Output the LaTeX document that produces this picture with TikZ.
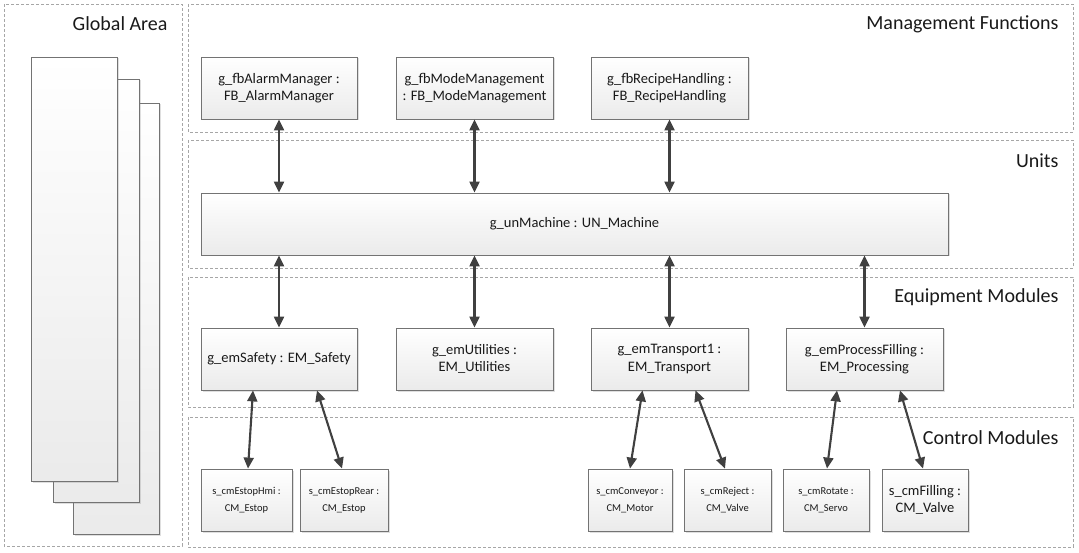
\documentclass[tikz,border=0pt]{standalone}
\usepackage{fontspec}
\setmainfont{Carlito}
\usetikzlibrary{arrows.meta}
\usetikzlibrary{shadows}

\tikzset{
    area/.style={draw=black!35, dash pattern=on 3pt off 2pt, line width=0.8pt},
    arealabel/.style={anchor=east, font=\fontsize{20pt}{24pt}\selectfont, text=black!90},
    block/.style={draw=black!55, line width=0.8pt, top color=white, bottom color=black!8,
        drop shadow={shadow xshift=1.5pt, shadow yshift=-1.5pt, opacity=0.25},
        minimum height=62pt, inner sep=2pt, align=center, text=black!90,
        font=\fontsize{14.5pt}{17.5pt}\selectfont},
    smallblock/.style={block, font=\fontsize{10.5pt}{17pt}\selectfont},
    page/.style={draw=black!55, line width=0.8pt, top color=white, bottom color=black!8,
        drop shadow={shadow xshift=1.5pt, shadow yshift=-1.5pt, opacity=0.25}},
    link/.style={{Triangle[length=11pt,width=10pt]}-{Triangle[length=11pt,width=10pt]},
        line width=2.1pt, draw=black!75}
}

\begin{document}
\begin{tikzpicture}[x=1pt, y=-1pt]
    \useasboundingbox (0, 0) rectangle (1079, 553);

    % areas
    \draw [area] (4, 4) rectangle (182, 546);
    \draw [area] (188, 4) rectangle (1073, 132);
    \draw [area] (188, 140) rectangle (1073, 268);
    \draw [area] (188, 277) rectangle (1073, 407);
    \draw [area] (188, 417) rectangle (1073, 547);

    \node [arealabel] at (171, 24) {Global Area};
    \node [arealabel] at (1062, 24) {Management Functions};
    \node [arealabel] at (1062, 161) {Units};
    \node [arealabel] at (1062, 297) {Equipment Modules};
    \node [arealabel] at (1062, 438) {Control Modules};

    % global pages
    \draw [page] (73, 103) rectangle (159, 534);
    \draw [page] (53, 79) rectangle (139, 502);
    \draw [page] (31, 57) rectangle (117, 481);

    % management functions
    \node [block, minimum width=156pt] (alarm) at (279, 88) {g\_fbAlarmManager :\\FB\_AlarmManager};
    \node [block, minimum width=157pt] (mode) at (474.5, 88) {g\_fbModeManagement\\: FB\_ModeManagement};
    \node [block, minimum width=157pt] (recipe) at (669.5, 88) {g\_fbRecipeHandling :\\FB\_RecipeHandling};

    % units
    \node [block, minimum width=747pt] (machine) at (574.5, 224) {g\_unMachine : UN\_Machine};

    % equipment modules
    \node [block, minimum width=156pt] (safety) at (279, 359) {g\_emSafety : EM\_Safety};
    \node [block, minimum width=157pt] (utilities) at (474.5, 359) {g\_emUtilities :\\EM\_Utilities};
    \node [block, minimum width=157pt] (transport) at (669.5, 359) {g\_emTransport1 :\\EM\_Transport};
    \node [block, minimum width=157pt] (processing) at (864.5, 359) {g\_emProcessFilling :\\EM\_Processing};

    % control modules
    \node [smallblock, minimum width=91pt] (estophmi) at (246.5, 500) {s\_cmEstopHmi :\\CM\_Estop};
    \node [smallblock, minimum width=88pt] (estoprear) at (344, 500) {s\_cmEstopRear :\\CM\_Estop};
    \node [smallblock, minimum width=84pt] (conveyor) at (630, 500) {s\_cmConveyor :\\CM\_Motor};
    \node [smallblock, minimum width=87pt] (reject) at (727.5, 500) {s\_cmReject :\\CM\_Valve};
    \node [smallblock, minimum width=86pt] (rotate) at (826, 500) {s\_cmRotate :\\CM\_Servo};
    \node [block, minimum width=86pt] (filling) at (925, 500) {s\_cmFilling :\\CM\_Valve};

    % links
    \draw [link] (alarm.south) -- (alarm.south |- machine.north);
    \draw [link] (mode.south) -- (mode.south |- machine.north);
    \draw [link] (recipe.south) -- (recipe.south |- machine.north);

    \draw [link] (safety.north |- machine.south) -- (safety.north);
    \draw [link] (utilities.north |- machine.south) -- (utilities.north);
    \draw [link] (transport.north |- machine.south) -- (transport.north);
    \draw [link] (processing.north |- machine.south) -- (processing.north);

    \draw [link] ([xshift=-26pt]safety.south) -- ([xshift=1.5pt]estophmi.north);
    \draw [link] ([xshift=38pt]safety.south) -- ([xshift=-2pt]estoprear.north);
    \draw [link] ([xshift=-27pt]transport.south) -- (conveyor.north);
    \draw [link] ([xshift=26pt]transport.south) -- ([xshift=-2.5pt]reject.north);
    \draw [link] ([xshift=-27.5pt]processing.south) -- ([xshift=1pt]rotate.north);
    \draw [link] ([xshift=35.5pt]processing.south) -- ([xshift=-2pt]filling.north);
\end{tikzpicture}
\end{document}
